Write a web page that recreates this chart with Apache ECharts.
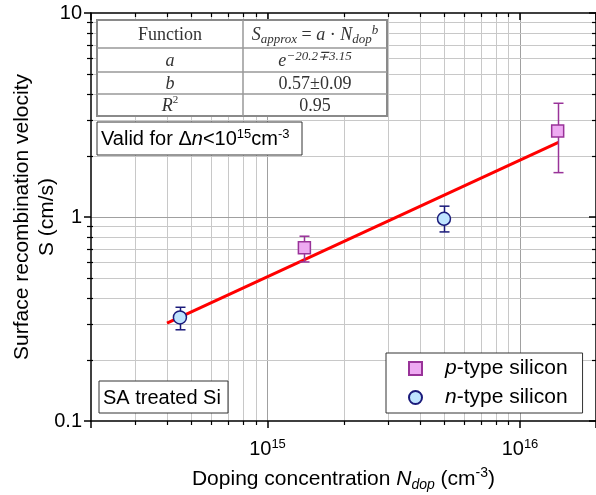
<!DOCTYPE html>
<html><head><meta charset="utf-8">
<script src="https://cdn.jsdelivr.net/npm/echarts@6/dist/echarts.min.js"></script>
<style>html,body{margin:0;padding:0;background:#fff}#c{width:596px;height:495px}</style>
</head><body><div id="c"></div>
<script>
// ---- data ----
const pTypeDoping = [1.4e15, 1.41e16];
const pTypeS      = [0.706, 2.64];
const pTypeSLow   = [0.602, 1.65];
const pTypeSHigh  = [0.805, 3.61];
const nTypeDoping = [4.5e14, 5.0e15];
const nTypeS      = [0.322, 0.98];
const nTypeSLow   = [0.28, 0.845];
const nTypeSHigh  = [0.361, 1.13];
const fitDoping   = [4.0e14, 1.42e16];
const fitS        = [0.302, 2.32];
const xGridValues = [3e14,4e14,5e14,6e14,7e14,8e14,9e14,1e15,2e15,3e15,4e15,5e15,6e15,7e15,8e15,9e15,1e16];
const xMajorValues = [1e15, 1e16];
const yGridValues = [0.2,0.3,0.4,0.5,0.6,0.7,0.8,0.9,1,2,3,4,5,6,7,8,9];
const yMajorValues = [1];
const xTickExponents = [15, 16];
const yTickLabels = ['0.1', '1', '10'];
const seriesNames = ['p-type silicon', 'n-type silicon'];
const tableCol1 = ['Function', '{i|a}', '{i|b}', '{i|R}{sup|2}'];
const tableCol2 = ['{i|S}{isub|approx}{n| = }{i|a}{n| · }{i|N}{isub|dop}{isup|b}', '{i|e}{isup|−20.2∓3.15}', '0.57±0.09', '0.95'];

const FONT = 'Liberation Sans, Arial, sans-serif';
const SERIF = 'Liberation Serif, Times New Roman, serif';

function isPow10(v) { const l = Math.log10(v); return Math.abs(l - Math.round(l)) < 1e-6; }

const chart = echarts.init(document.getElementById('c'), null, {renderer: 'canvas'});

function errData(xs, lo, hi) { return xs.map((x, i) => [x, lo[i], hi[i]]); }
function errSeries(data, color) {
  return {
    type: 'custom', z: 4, silent: true, data: data,
    encode: {x: 0, y: [1, 2]},
    renderItem(params, api) {
      const top = api.coord([api.value(0), api.value(2)]);
      const bot = api.coord([api.value(0), api.value(1)]);
      const cx = Math.round(top[0]) + 0.5, w = 5;
      const st = {stroke: color, lineWidth: 1.5};
      return {type: 'group', children: [
        {type: 'line', shape: {x1: cx, y1: top[1], x2: cx, y2: bot[1]}, style: st},
        {type: 'line', shape: {x1: cx - w, y1: top[1], x2: cx + w, y2: top[1]}, style: st},
        {type: 'line', shape: {x1: cx - w, y1: bot[1], x2: cx + w, y2: bot[1]}, style: st}
      ]};
    }
  };
}

const supRich = {
  b: {fontSize: 20, fontFamily: FONT, color: '#000', lineHeight: 22},
  s: {fontSize: 13, fontFamily: FONT, color: '#000', lineHeight: 13, verticalAlign: 'top'}
};

// table graphics
const colX = [97, 243, 387];
const rowY = [20, 48, 72, 94, 116];
const tableRich = {
  i: {fontStyle: 'italic', fontFamily: SERIF, fontSize: 18, color: '#333', lineHeight: 22},
  n: {fontFamily: SERIF, fontSize: 18, color: '#333', lineHeight: 22},
  isub: {fontStyle: 'italic', fontFamily: SERIF, fontSize: 13, color: '#333', lineHeight: 12, verticalAlign: 'bottom'},
  isup: {fontStyle: 'italic', fontFamily: SERIF, fontSize: 13, color: '#333', lineHeight: 12, verticalAlign: 'top'},
  sup: {fontFamily: SERIF, fontSize: 11, color: '#333', lineHeight: 11, verticalAlign: 'top'}
};
const tableEls = [];
tableEls.push({type: 'rect', shape: {x: colX[0], y: rowY[0], width: colX[2] - colX[0], height: rowY[4] - rowY[0]},
  style: {fill: '#fff', stroke: '#8a8a8a', lineWidth: 2}, z: 10});
for (let r = 1; r < 4; r++) {
  tableEls.push({type: 'line', shape: {x1: colX[0], y1: rowY[r], x2: colX[2], y2: rowY[r]}, style: {stroke: '#999', lineWidth: 1.5}, z: 11});
}
tableEls.push({type: 'line', shape: {x1: colX[1], y1: rowY[0], x2: colX[1], y2: rowY[4]}, style: {stroke: '#999', lineWidth: 1.5}, z: 11});
for (let r = 0; r < 4; r++) {
  const cy = (rowY[r] + rowY[r + 1]) / 2 + 1;
  tableEls.push({type: 'text', z: 12, style: {text: tableCol1[r], x: (colX[0] + colX[1]) / 2, y: cy, align: 'center', verticalAlign: 'middle',
    fontFamily: SERIF, fontSize: 18, fill: '#333', rich: tableRich}});
  tableEls.push({type: 'text', z: 12, style: {text: tableCol2[r], x: (colX[1] + colX[2]) / 2, y: cy, align: 'center', verticalAlign: 'middle',
    fontFamily: SERIF, fontSize: 18, fill: '#333', rich: tableRich}});
}

const boxRich = {
  i: {fontStyle: 'italic', fontFamily: FONT, fontSize: 20, color: '#000', lineHeight: 22},
  sup: {fontFamily: FONT, fontSize: 13, color: '#000', lineHeight: 13, verticalAlign: 'top'}
};

const option = {
  animation: false,
  backgroundColor: '#fff',
  grid: {left: 91, top: 13, width: 505, height: 408, containLabel: false, outerBoundsMode: 'none'},
  xAxis: [{
    type: 'log', logBase: 10, min: 2e14, max: 2e16, position: 'bottom',
    axisLine: {lineStyle: {color: '#000', width: 1.5}},
    axisTick: {length: 7, lineStyle: {color: '#000', width: 1.5}},
    splitLine: {show: false}, minorTick: {show: false},
    axisLabel: {
      margin: 17, showMinLabel: true, showMaxLabel: true,
      formatter: v => { if (!isPow10(v)) return ''; const e = Math.round(Math.log10(v)); return xTickExponents.includes(e) ? '{b|10}{s|' + e + '}' : ''; },
      rich: supRich
    },
    name: 'Doping concentration {i|N}{sub|dop} (cm{sup|-3})',
    nameLocation: 'middle', nameGap: 45, nameMoveOverlap: false,
    nameTextStyle: {fontSize: 21, fontFamily: FONT, color: '#000', lineHeight: 26,
      rich: {
        i: {fontSize: 21, fontStyle: 'italic', fontFamily: FONT, color: '#000', lineHeight: 26},
        sub: {fontSize: 14, fontStyle: 'italic', fontFamily: FONT, color: '#000', lineHeight: 14, verticalAlign: 'bottom'},
        sup: {fontSize: 14, fontFamily: FONT, color: '#000', lineHeight: 14, verticalAlign: 'top'}
      }}
  }, {
    type: 'log', logBase: 10, min: 2e14, max: 2e16, position: 'top',
    axisLine: {lineStyle: {color: '#000', width: 1.5}},
    axisTick: {inside: true, length: 7, lineStyle: {color: '#000', width: 1.5}},
    axisLabel: {show: false}, splitLine: {show: false}
  }],
  yAxis: [{
    type: 'log', logBase: 10, min: 0.1, max: 10, position: 'left',
    axisLine: {lineStyle: {color: '#000', width: 1.5}},
    axisTick: {length: 7, lineStyle: {color: '#000', width: 1.5}},
    splitLine: {show: false},
    axisLabel: {
      margin: 9, fontSize: 20, fontFamily: FONT, color: '#000',
      formatter: v => { if (!isPow10(v)) return ''; const e = Math.round(Math.log10(v)); return yTickLabels[e + 1] || ''; }
    },
    name: 'Surface recombination velocity\nS (cm/s)',
    nameLocation: 'middle', nameRotate: 90, nameGap: 31, nameMoveOverlap: false,
    nameTextStyle: {fontSize: 21, fontFamily: FONT, color: '#000', lineHeight: 25}
  }, {
    type: 'log', logBase: 10, min: 0.1, max: 10, position: 'right',
    axisLine: {lineStyle: {color: '#000', width: 1.5}},
    axisTick: {inside: true, length: 7, lineStyle: {color: '#000', width: 1.5}},
    axisLabel: {show: false}, splitLine: {show: false}
  }],
  legend: {
    data: seriesNames, orient: 'vertical', left: 386, top: 353,
    backgroundColor: '#fff', borderColor: '#333', borderWidth: 1, borderRadius: 0,
    padding: [5, 15, 5, 22], itemGap: 8, itemWidth: 13, itemHeight: 13, z: 20,
    formatter: name => '{i|' + name.charAt(0) + '}{n|' + name.slice(1) + '}',
    textStyle: {fontSize: 21, fontFamily: FONT, color: '#000',
      rich: {
        i: {fontSize: 21, fontStyle: 'italic', fontFamily: FONT, color: '#000', lineHeight: 21, padding: [0, 0, 0, 18]},
        n: {fontSize: 21, fontFamily: FONT, color: '#000', lineHeight: 21}
      }}
  },
  graphic: [
    ...tableEls,
    {type: 'rect', z: 10, shape: {x: 97, y: 122, width: 205, height: 33}, style: {fill: '#fff', stroke: '#333', lineWidth: 1}},
    {type: 'text', z: 11, style: {text: 'Valid for Δ{i|n}<10{sup|15}cm{sup|-3}', x: 101, y: 139, verticalAlign: 'middle',
      fontSize: 20, fontFamily: FONT, fill: '#000', rich: boxRich}},
    {type: 'rect', z: 10, shape: {x: 99, y: 381, width: 129, height: 32}, style: {fill: '#fff', stroke: '#333', lineWidth: 1}},
    {type: 'text', z: 11, style: {text: 'SA treated Si', x: 103, y: 398, verticalAlign: 'middle',
      fontSize: 20, fontFamily: FONT, fill: '#000'}}
  ],
  series: [
    { // vertical gridlines
      type: 'custom', z: 0, silent: true, data: xGridValues.map(v => [v, 1]),
      renderItem(params, api) {
        const cs = params.coordSys; const v = api.value(0);
        const x = Math.round(api.coord([v, 1])[0]) + 0.5;
        const major = xMajorValues.includes(v);
        const children = [{type: 'line', shape: {x1: x, y1: cs.y, x2: x, y2: cs.y + cs.height}, style: {stroke: major ? '#a0a0a0' : '#c8c8c8', lineWidth: 1}}];
        if (!major) {
          children.push({type: 'line', shape: {x1: x, y1: cs.y + cs.height, x2: x, y2: cs.y + cs.height + 4}, style: {stroke: '#000', lineWidth: 1.2}});
          children.push({type: 'line', shape: {x1: x, y1: cs.y, x2: x, y2: cs.y + 4}, style: {stroke: '#000', lineWidth: 1.2}});
        }
        return {type: 'group', children};
      }
    },
    { // horizontal gridlines
      type: 'custom', z: 0, silent: true, data: yGridValues.map(v => [1e15, v]),
      renderItem(params, api) {
        const cs = params.coordSys; const v = api.value(1);
        const y = Math.round(api.coord([1e15, v])[1]) + 0.5;
        const major = yMajorValues.includes(v);
        const children = [{type: 'line', shape: {x1: cs.x, y1: y, x2: cs.x + cs.width, y2: y}, style: {stroke: major ? '#a0a0a0' : '#c8c8c8', lineWidth: 1}}];
        if (!major) {
          children.push({type: 'line', shape: {x1: cs.x - 4, y1: y, x2: cs.x + 2, y2: y}, style: {stroke: '#000', lineWidth: 1.2}});
          children.push({type: 'line', shape: {x1: cs.x + cs.width - 4, y1: y, x2: cs.x + cs.width, y2: y}, style: {stroke: '#000', lineWidth: 1.2}});
        }
        return {type: 'group', children};
      }
    },
    {
      type: 'line', name: 'fit', z: 3, silent: true, symbol: 'none',
      data: fitDoping.map((x, i) => [x, fitS[i]]),
      lineStyle: {color: '#ff0000', width: 3}
    },
    errSeries(errData(pTypeDoping, pTypeSLow, pTypeSHigh), '#993399'),
    errSeries(errData(nTypeDoping, nTypeSLow, nTypeSHigh), '#1a1a7a'),
    {
      type: 'scatter', name: seriesNames[0], z: 5, symbol: 'rect', symbolSize: 12,
      data: pTypeDoping.map((x, i) => [x, pTypeS[i]]),
      itemStyle: {color: '#eeaaf2', borderColor: '#993399', borderWidth: 1.5, opacity: 1}
    },
    {
      type: 'scatter', name: seriesNames[1], z: 5, symbol: 'circle', symbolSize: 13,
      data: nTypeDoping.map((x, i) => [x, nTypeS[i]]),
      itemStyle: {color: '#bfe4ff', borderColor: '#1a1a7a', borderWidth: 1.5, opacity: 1}
    }
  ]
};
chart.setOption(option);
</script>
</body></html>
